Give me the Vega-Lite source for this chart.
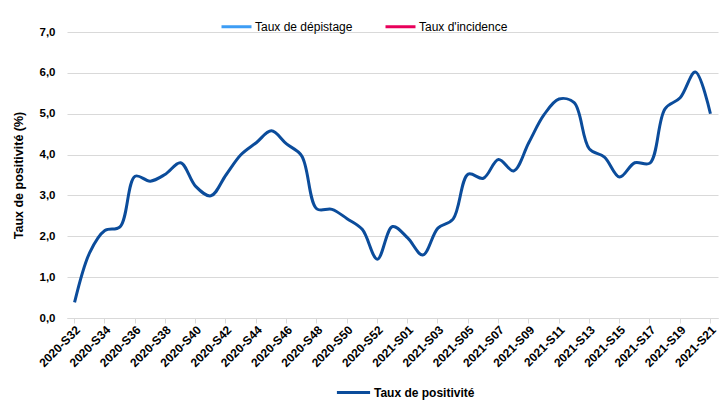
{
  "$schema": "https://vega.github.io/schema/vega-lite/v6.json",
  "autosize": "none",
  "width": 651,
  "height": 286,
  "padding": {"left": 67, "top": 32, "right": 2, "bottom": 82},
  "background": "white",
  "config": {
    "view": {"stroke": null},
    "font": "Liberation Sans Narrow, Liberation Sans, sans-serif"
  },
  "datasets": {
    "positivite": [
      {"semaine": "2020-S32", "taux": 0.38},
      {"semaine": "2020-S33", "taux": 1.6},
      {"semaine": "2020-S34", "taux": 2.14},
      {"semaine": "2020-S35", "taux": 2.23},
      {"semaine": "2020-S36", "taux": 3.47},
      {"semaine": "2020-S37", "taux": 3.35},
      {"semaine": "2020-S38", "taux": 3.52},
      {"semaine": "2020-S39", "taux": 3.8},
      {"semaine": "2020-S40", "taux": 3.22},
      {"semaine": "2020-S41", "taux": 2.99},
      {"semaine": "2020-S42", "taux": 3.5},
      {"semaine": "2020-S43", "taux": 4.0},
      {"semaine": "2020-S44", "taux": 4.29},
      {"semaine": "2020-S45", "taux": 4.58},
      {"semaine": "2020-S46", "taux": 4.26},
      {"semaine": "2020-S47", "taux": 3.97},
      {"semaine": "2020-S48", "taux": 2.67},
      {"semaine": "2020-S49", "taux": 2.66},
      {"semaine": "2020-S50", "taux": 2.43},
      {"semaine": "2020-S51", "taux": 2.17},
      {"semaine": "2020-S52", "taux": 1.44},
      {"semaine": "2020-S53", "taux": 2.24},
      {"semaine": "2021-S01", "taux": 1.96},
      {"semaine": "2021-S02", "taux": 1.54},
      {"semaine": "2021-S03", "taux": 2.2},
      {"semaine": "2021-S04", "taux": 2.42},
      {"semaine": "2021-S05", "taux": 3.52},
      {"semaine": "2021-S06", "taux": 3.42},
      {"semaine": "2021-S07", "taux": 3.88},
      {"semaine": "2021-S08", "taux": 3.6},
      {"semaine": "2021-S09", "taux": 4.29},
      {"semaine": "2021-S10", "taux": 4.97},
      {"semaine": "2021-S11", "taux": 5.36},
      {"semaine": "2021-S12", "taux": 5.27},
      {"semaine": "2021-S13", "taux": 4.14},
      {"semaine": "2021-S14", "taux": 3.94},
      {"semaine": "2021-S15", "taux": 3.45},
      {"semaine": "2021-S16", "taux": 3.8},
      {"semaine": "2021-S17", "taux": 3.79},
      {"semaine": "2021-S18", "taux": 5.12},
      {"semaine": "2021-S19", "taux": 5.39},
      {"semaine": "2021-S20", "taux": 6.02},
      {"semaine": "2021-S21", "taux": 5.0}
    ],
    "autres": [
      {"semaine": "2020-S32", "taux": null, "serie": "Taux de dépistage"},
      {"semaine": "2020-S32", "taux": null, "serie": "Taux d'incidence"}
    ]
  },
  "resolve": {"scale": {"color": "independent"}, "legend": {"color": "independent"}},
  "encoding": {
    "x": {
      "field": "semaine",
      "type": "ordinal",
      "sort": null,
      "bandPosition": 0.5,
      "scale": {"type": "band", "paddingInner": 0, "paddingOuter": 0},
      "axis": {
        "title": null,
        "values": ["2020-S32","2020-S34","2020-S36","2020-S38","2020-S40","2020-S42","2020-S44","2020-S46","2020-S48","2020-S50","2020-S52","2021-S01","2021-S03","2021-S05","2021-S07","2021-S09","2021-S11","2021-S13","2021-S15","2021-S17","2021-S19","2021-S21"],
        "bandPosition": 0.5,
        "labelAngle": -45,
        "labelFontWeight": "bold",
        "labelFontSize": 12,
        "labelColor": "#000000",
        "labelPadding": 1,
        "tickColor": "#D9D9D9",
        "tickSize": 5,
        "domainColor": "#D9D9D9",
        "grid": false
      }
    },
    "y": {
      "field": "taux",
      "type": "quantitative",
      "scale": {"domain": [0, 7], "nice": false},
      "axis": {
        "title": "Taux de positivité (%)",
        "titleFontSize": 12.5,
        "titleFontWeight": "bold",
        "titleColor": "#000000",
        "titlePadding": 14,
        "values": [0, 1, 2, 3, 4, 5, 6, 7],
        "labelExpr": "replace(format(datum.value, '.1f'), '.', ',')",
        "labelFontWeight": "bold",
        "labelFontSize": 11.5,
        "labelColor": "#000000",
        "labelPadding": 12,
        "ticks": false,
        "domain": false,
        "gridColor": "#D9D9D9",
        "gridWidth": 1
      }
    }
  },
  "layer": [
    {
      "data": {"name": "positivite"},
      "mark": {"type": "line", "interpolate": "catmull-rom", "strokeWidth": 3},
      "encoding": {
        "color": {
          "datum": "Taux de positivité",
          "type": "nominal",
          "scale": {"domain": ["Taux de positivité"], "range": ["#0B4C9B"]},
          "legend": {
            "title": null,
            "orient": "none",
            "legendX": 268,
            "legendY": 342,
            "symbolType": "stroke",
            "symbolSize": 1100,
            "symbolStrokeWidth": 3,
            "labelFontSize": 12,
            "labelFontWeight": "bold",
            "labelColor": "#000000",
            "labelOffset": 2
          }
        }
      }
    },
    {
      "data": {"name": "autres"},
      "mark": {"type": "line", "strokeWidth": 3},
      "encoding": {
        "color": {
          "field": "serie",
          "type": "nominal",
          "scale": {"domain": ["Taux de dépistage", "Taux d'incidence"], "range": ["#3D9DF5", "#E8005A"]},
          "legend": {
            "title": null,
            "orient": "none",
            "direction": "horizontal",
            "legendX": 153,
            "legendY": -22,
            "symbolType": "stroke",
            "symbolSize": 900,
            "symbolStrokeWidth": 3,
            "labelFontSize": 12,
            "labelColor": "#000000",
            "labelOffset": 2,
            "columnPadding": 26
          }
        }
      }
    }
  ]
}
